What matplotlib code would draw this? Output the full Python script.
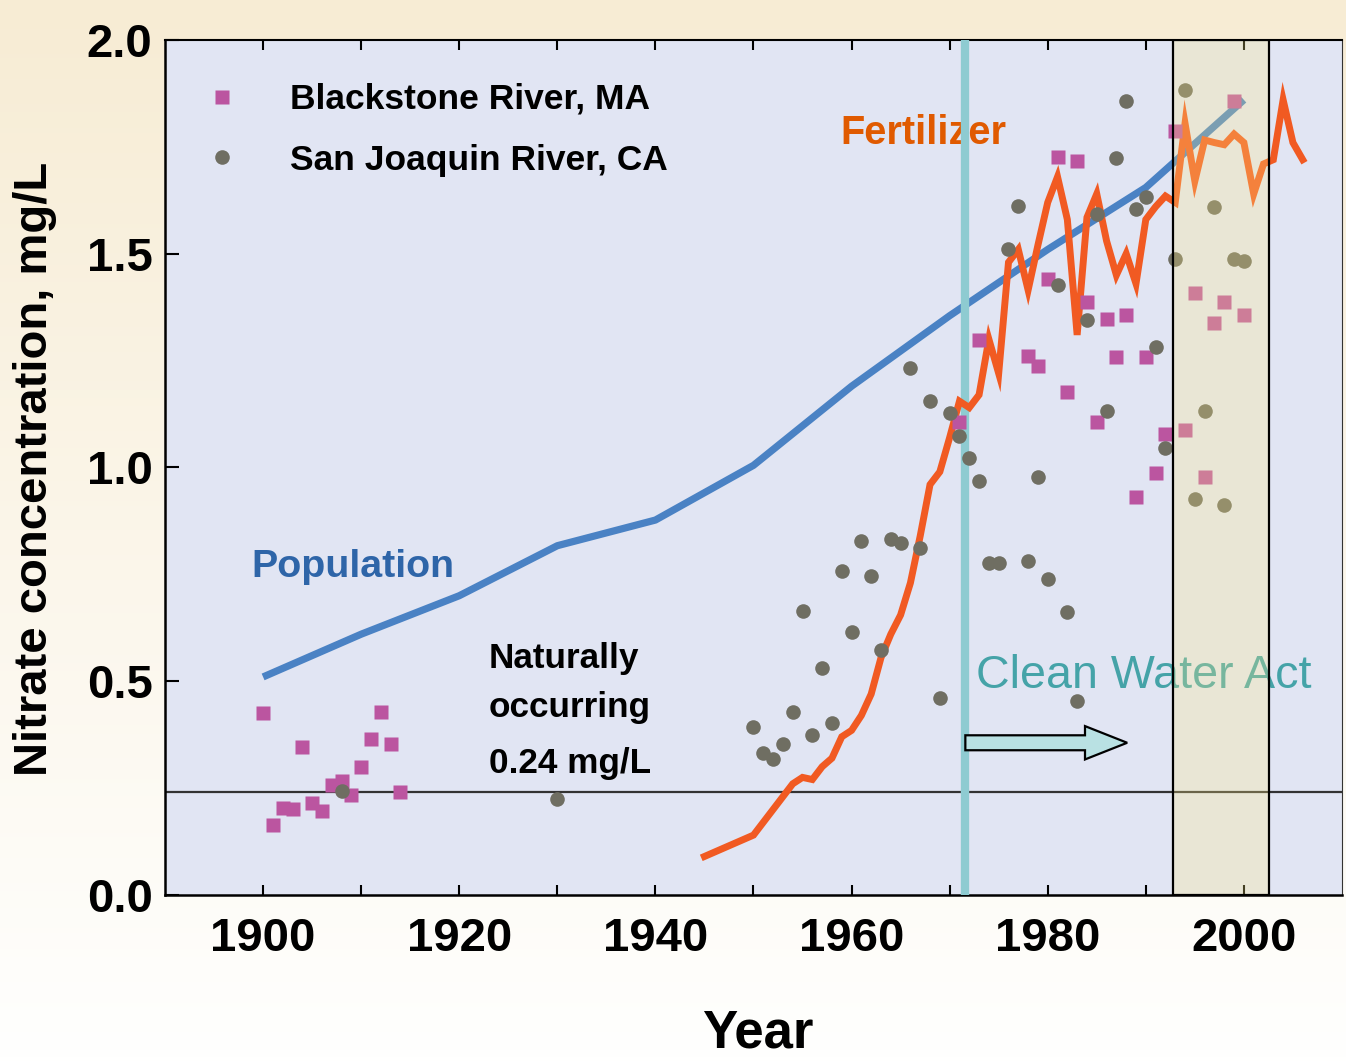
import numpy as np
import matplotlib
matplotlib.use("Agg")
import matplotlib.pyplot as plt
from matplotlib.patches import FancyArrow
from matplotlib.ticker import FuncFormatter, MultipleLocator

plt.rcParams['font.family'] = ['Liberation Sans Narrow', 'Liberation Sans', 'DejaVu Sans']

# US population scaled onto the nitrate axis
pop_years = [1900, 1910, 1920, 1930, 1940, 1950, 1960, 1970, 1980, 1990, 2000]
pop_values = [0.51, 0.61, 0.70, 0.817, 0.877, 1.005, 1.19, 1.355, 1.51, 1.655, 1.86]

# fertilizer use scaled onto the nitrate axis
fert_years = list(range(1945, 2007))
fert_values = [0.09, 0.10, 0.11, 0.12, 0.13, 0.14, 0.17, 0.20, 0.23, 0.26,
               0.275, 0.27, 0.30, 0.32, 0.37, 0.385, 0.42, 0.47, 0.555, 0.61,
               0.655, 0.73, 0.84, 0.96, 0.99, 1.07, 1.155, 1.14, 1.17, 1.30,
               1.22, 1.48, 1.51, 1.415, 1.52, 1.62, 1.68, 1.58, 1.31, 1.585,
               1.64, 1.53, 1.45, 1.50, 1.43, 1.58, 1.61, 1.635, 1.62, 1.805,
               1.67, 1.766, 1.76, 1.755, 1.78, 1.76, 1.64, 1.71, 1.72, 1.86,
               1.76, 1.72]

blackstone_years = [1900, 1901, 1902, 1903, 1904, 1905, 1906, 1907, 1908, 1909,
                    1910, 1911, 1912, 1913, 1914,
                    1971, 1973, 1978, 1979, 1980, 1981, 1982, 1983, 1984, 1985,
                    1986, 1987, 1988, 1989, 1990, 1991, 1992, 1993, 1994, 1995,
                    1996, 1997, 1998, 1999, 2000]
blackstone_values = [0.426, 0.164, 0.203, 0.201, 0.346, 0.215, 0.196, 0.257, 0.266, 0.234,
                     0.30, 0.365, 0.428, 0.353, 0.241,
                     1.106, 1.298, 1.26, 1.238, 1.44, 1.727, 1.177, 1.717, 1.387, 1.106,
                     1.347, 1.258, 1.357, 0.931, 1.258, 0.987, 1.078, 1.787, 1.088, 1.408,
                     0.978, 1.338, 1.387, 1.857, 1.357]

sanjoaquin_years = [1908, 1930,
                    1950, 1951, 1952, 1953, 1954, 1955, 1956, 1957, 1958, 1959,
                    1960, 1961, 1962, 1963, 1964, 1965, 1966, 1967, 1968, 1969,
                    1970, 1971, 1972, 1973, 1974, 1975, 1976, 1977, 1978, 1979,
                    1980, 1981, 1982, 1983, 1984, 1985, 1986, 1987, 1988, 1989,
                    1990, 1991, 1992, 1993, 1994, 1995, 1996, 1997, 1998, 1999, 2000]
sanjoaquin_values = [0.243, 0.225,
                     0.393, 0.332, 0.318, 0.353, 0.428, 0.664, 0.374, 0.531, 0.403, 0.758,
                     0.616, 0.827, 0.746, 0.573, 0.833, 0.824, 1.233, 0.811, 1.156, 0.46,
                     1.127, 1.074, 1.022, 0.968, 0.776, 0.776, 1.51, 1.612, 0.782, 0.978,
                     0.738, 1.427, 0.661, 0.453, 1.345, 1.593, 1.133, 1.724, 1.857, 1.605,
                     1.633, 1.282, 1.045, 1.488, 1.883, 0.926, 1.132, 1.609, 0.912, 1.488, 1.483]

natural_level = 0.24
clean_water_act = 1971.6
highlight = (1992.8, 2002.55)

fig = plt.figure(figsize=(13.46, 10.61), dpi=100)

# beige to white background
bg = fig.add_axes([0, 0, 1, 1], zorder=-10)
grad = np.linspace(0, 1, 256)[:, None]
top_c = np.array([247, 236, 212]) / 255
bot_c = np.array([255, 255, 254]) / 255
img = top_c[None, None, :] * (1 - grad[..., None]) + bot_c[None, None, :] * grad[..., None]
bg.imshow(img, aspect='auto', extent=[0, 1, 0, 1])
bg.axis('off')

ax = fig.add_axes([0.1226, 0.1565, 0.8744, 0.8058])
ax.set_facecolor('#e1e5f3')
ax.set_xlim(1890, 2010)
ax.set_ylim(0, 2.0)

ax.axhline(natural_level, color='#333333', lw=1.6, zorder=2)
ax.plot(pop_years, pop_values, color='#4a82c4', lw=5.2, solid_capstyle='butt', zorder=3)
ax.axvline(clean_water_act, color='#8ecbd1', lw=6, zorder=4)
ax.plot(fert_years, fert_values, color='#f15a22', lw=5, solid_joinstyle='miter', zorder=5)
sq, = ax.plot(blackstone_years, blackstone_values, 's', color='#bb55a0', ms=9.5,
              mec='none', zorder=6, label='Blackstone River, MA')
ci, = ax.plot(sanjoaquin_years, sanjoaquin_values, 'o', color='#6f6e62', ms=10.5,
              mec='none', zorder=7, label='San Joaquin River, CA')

ax.axvspan(highlight[0], highlight[1], facecolor=(1.0, 0.92, 0.52, 0.27),
           edgecolor='black', lw=1.6, zorder=10)

ax.add_patch(FancyArrow(clean_water_act, 0.356, 16.5, 0, width=0.035,
                        head_width=0.078, head_length=4.3, length_includes_head=True,
                        facecolor='#b9e1e3', edgecolor='black', lw=1.6, zorder=8))

ax.text(1958.9, 1.757, 'Fertilizer', color='#e05a00', fontsize=28.6,
        fontweight='bold', zorder=3)
ax.text(1898.8, 0.744, 'Population', color='#2e65a8', fontsize=28.4,
        fontweight='bold', zorder=3)
ax.text(1923.0, 0.531, 'Naturally', fontsize=25.3, fontweight='bold', zorder=3)
ax.text(1923.0, 0.417, 'occurring', fontsize=25.3, fontweight='bold', zorder=3)
ax.text(1923.0, 0.285, '0.24 mg/L', fontsize=25.3, fontweight='bold', zorder=3)
ax.text(1972.7, 0.484, 'Clean Water Act', color='#45a3a8', fontsize=33.6, zorder=9)

ax.legend(handles=[sq, ci], loc='upper left', bbox_to_anchor=(0.006, 0.987),
          frameon=False, handlelength=1.0, handletextpad=1.42,
          labelspacing=0.78, prop={'weight': 'bold', 'size': 25.5})

ax.set_xticks(range(1900, 2001, 10))
ax.xaxis.set_major_formatter(FuncFormatter(lambda v, p: f'{int(v)}' if int(v) % 20 == 0 else ''))
ax.yaxis.set_major_locator(MultipleLocator(0.5))
ax.yaxis.set_major_formatter(FuncFormatter(lambda v, p: f'{v:.1f}'))
ax.tick_params(axis='x', direction='in', length=7, width=1.5, top=True,
               labelsize=34, pad=16)
ax.tick_params(axis='y', direction='in', length=10, width=1.5, labelsize=34, pad=9)
for lab in ax.get_xticklabels() + ax.get_yticklabels():
    lab.set_fontweight('bold')

for s in ['left', 'bottom']:
    ax.spines[s].set_linewidth(1.8)
ax.spines['top'].set_linewidth(1.5)
ax.spines['right'].set_linewidth(0.8)
ax.spines['right'].set_color('#333333')

fig.text(35 / 1346, 0.558, 'Nitrate concentration, mg/L', rotation=90, ha='center',
         va='center', fontsize=34, fontweight='bold')
fig.text(758 / 1346, 0.026, 'Year', ha='center', va='center', fontsize=38,
         fontweight='bold')

fig.savefig('out.png', dpi=100)
